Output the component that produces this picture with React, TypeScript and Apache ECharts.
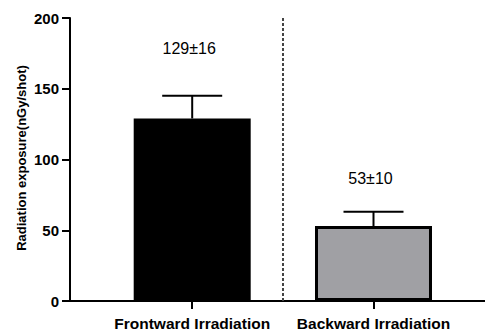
import React, { useEffect, useRef } from "react";
import * as echarts from "echarts";

const categories = ["Frontward Irradiation", "Backward Irradiation"];
const means = [129, 53];
const errors = [16, 10];
const fills = ["#000000", "#a0a0a4"];
const yTicks = { min: 0, max: 200, interval: 50 };
const yAxisName = "Radiation exposure(nGy/shot)";

const FONT = "'Liberation Sans', Arial, Helvetica, sans-serif";

export default function App() {
  const ref = useRef<HTMLDivElement>(null);
  useEffect(() => {
    if (!ref.current) return;
    const chart = echarts.init(ref.current, null, { renderer: "svg" });
    const positions = categories.map((_, i) => i + 1);
    const labelOffsets = [47, 33];
    chart.setOption({
      animation: false,
      backgroundColor: "#ffffff",
      grid: { left: 70, right: 0, top: 18, bottom: 31, containLabel: false },
      graphic: [
        {
          type: "text",
          x: 21,
          y: 158,
          rotation: Math.PI / 2,
          style: {
            text: yAxisName,
            fill: "#000",
            font: `bold 13px ${FONT}`,
            align: "center",
            verticalAlign: "middle",
          },
        },
      ],
      xAxis: {
        type: "value",
        min: 0.326,
        max: 2.615,
        splitLine: { show: false },
        axisLine: { show: true, onZero: false, lineStyle: { color: "#000", width: 2 } },
        axisTick: {
          show: true,
          customValues: positions,
          length: 8,
          lineStyle: { color: "#000", width: 2 },
        },
        axisLabel: {
          show: true,
          customValues: positions,
          formatter: (v: number) => categories[Math.round(v) - 1] ?? "",
          color: "#000",
          fontFamily: FONT,
          fontWeight: "bold",
          fontSize: 15.5,
          margin: 14,
        },
      },
      yAxis: {
        type: "value",
        min: yTicks.min,
        max: yTicks.max,
        interval: yTicks.interval,
        splitLine: { show: false },
        axisLine: { show: true, lineStyle: { color: "#000", width: 2 } },
        axisTick: { show: true, length: 8, lineStyle: { color: "#000", width: 2 } },
        axisLabel: {
          color: "#000",
          fontFamily: FONT,
          fontWeight: "bold",
          fontSize: 15,
          margin: 11,
        },
      },
      series: [
        {
          type: "bar",
          barWidth: 117,
          data: means.map((m, i) => ({
            value: [positions[i], m],
            itemStyle: { color: fills[i], borderColor: "#000", borderWidth: 3 },
          })),
          markLine: {
            silent: true,
            symbol: "none",
            label: { show: false },
            lineStyle: { color: "#444", width: 2, type: [3, 2] },
            data: [{ xAxis: 1.5 }],
          },
          z: 2,
        },
        {
          type: "custom",
          data: means.map((m, i) => [positions[i], m, m + errors[i], i]),
          renderItem: (params: any, api: any) => {
            const x = api.value(0);
            const top = api.coord([x, api.value(1)]);
            const cap = api.coord([x, api.value(2)]);
            const idx = api.value(3);
            const half = 30;
            return {
              type: "group",
              children: [
                {
                  type: "line",
                  shape: { x1: top[0], y1: top[1], x2: cap[0], y2: cap[1] },
                  style: { stroke: "#000", lineWidth: 2 },
                },
                {
                  type: "line",
                  shape: { x1: cap[0] - half, y1: cap[1], x2: cap[0] + half, y2: cap[1] },
                  style: { stroke: "#000", lineWidth: 2 },
                },
                {
                  type: "text",
                  x: cap[0] - 3,
                  y: cap[1] - labelOffsets[idx],
                  style: {
                    text: `${means[idx]}±${errors[idx]}`,
                    fill: "#000",
                    font: `16px ${FONT}`,
                    align: "center",
                    verticalAlign: "middle",
                  },
                },
              ],
            };
          },
          z: 3,
        },
      ],
    });
    return () => chart.dispose();
  }, []);
  return (
    <div
      ref={ref}
      style={{ position: "fixed", left: 0, top: 0, width: 485, height: 332 }}
    />
  );
}
